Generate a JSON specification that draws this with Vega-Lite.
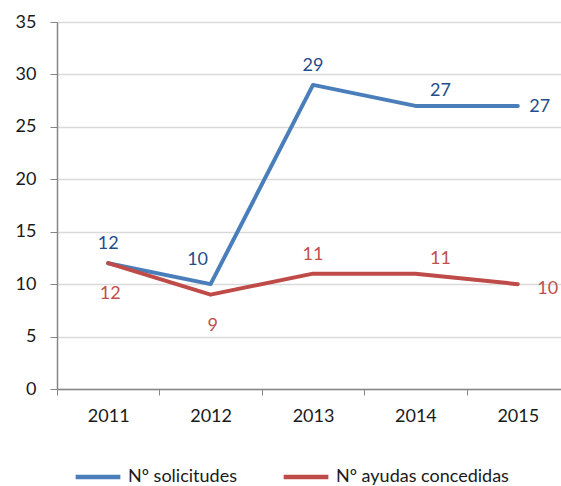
{
  "$schema": "https://vega.github.io/schema/vega-lite/v6.json",
  "width": 512,
  "height": 367,
  "autosize": {"type": "none"},
  "padding": {"left": 57, "top": 22, "right": 0, "bottom": 97},
  "background": "white",
  "config": {
    "font": "Lato",
    "view": {"stroke": null}
  },
  "data": {
    "values": [
      {"year": "2011", "series": "Nº solicitudes", "value": 12},
      {"year": "2012", "series": "Nº solicitudes", "value": 10},
      {"year": "2013", "series": "Nº solicitudes", "value": 29},
      {"year": "2014", "series": "Nº solicitudes", "value": 27},
      {"year": "2015", "series": "Nº solicitudes", "value": 27},
      {"year": "2011", "series": "Nº ayudas concedidas", "value": 12},
      {"year": "2012", "series": "Nº ayudas concedidas", "value": 9},
      {"year": "2013", "series": "Nº ayudas concedidas", "value": 11},
      {"year": "2014", "series": "Nº ayudas concedidas", "value": 11},
      {"year": "2015", "series": "Nº ayudas concedidas", "value": 10}
    ]
  },
  "encoding": {
    "x": {
      "field": "year", "type": "nominal", "title": null,
      "scale": {"type": "band", "paddingInner": 0, "paddingOuter": 0},
      "axis": {
        "labelAngle": 0, "labelFontSize": 18, "labelColor": "#1a1a1a",
        "domainColor": "#868686", "domainWidth": 1.5, "tickColor": "#868686",
        "tickBand": "extent", "tickSize": 6, "labelPadding": 12, "grid": false
      }
    },
    "y": {
      "field": "value", "type": "quantitative", "title": null,
      "scale": {"domain": [0, 35], "nice": false},
      "axis": {
        "values": [0, 5, 10, 15, 20, 25, 30, 35], "labelFontSize": 18, "labelColor": "#1a1a1a",
        "domainColor": "#868686", "domainWidth": 1.5, "tickColor": "#868686", "tickSize": 7,
        "labelPadding": 14, "gridColor": "#D9D9D9", "gridWidth": 1.5
      }
    }
  },
  "layer": [
    {
      "mark": {"type": "line", "strokeWidth": 4, "strokeCap": "round", "strokeJoin": "round"},
      "encoding": {
        "color": {
          "field": "series", "type": "nominal",
          "scale": {"domain": ["Nº solicitudes", "Nº ayudas concedidas"], "range": ["#4A7EBB", "#BE4B48"]},
          "legend": {
            "title": null, "orient": "none", "direction": "horizontal",
            "legendX": 16, "legendY": 430,
            "symbolType": "stroke", "symbolSize": 2000, "symbolStrokeWidth": 4.5,
            "labelFontSize": 18, "labelColor": "#1a1a1a", "labelOffset": 5, "columnPadding": 37,
            "labelLimit": 300
          }
        }
      }
    },
    {
      "transform": [{"filter": "(datum.series == 'Nº solicitudes' && (datum.year == '2011' || datum.year == '2013')) || (datum.series == 'Nº ayudas concedidas' && datum.year == '2013')"}],
      "mark": {"type": "text", "fontSize": 18, "dy": -19},
      "encoding": {"text": {"field": "value"}, "color": {"field": "series", "type": "nominal", "scale": {"domain": ["Nº solicitudes", "Nº ayudas concedidas"], "range": ["#1F4E8C", "#C0504D"]}, "legend": null}}
    },
    {
      "transform": [{"filter": "datum.series == 'Nº solicitudes' && datum.year == '2012'"}],
      "mark": {"type": "text", "fontSize": 18, "dx": -13, "dy": -24, "color": "#1F4E8C"},
      "encoding": {"text": {"field": "value"}, "color": {"value": "#1F4E8C"}}
    },
    {
      "transform": [{"filter": "datum.year == '2014'"}],
      "mark": {"type": "text", "fontSize": 18, "dx": 25, "dy": -15},
      "encoding": {"text": {"field": "value"}, "color": {"field": "series", "type": "nominal", "scale": {"domain": ["Nº solicitudes", "Nº ayudas concedidas"], "range": ["#1F4E8C", "#C0504D"]}, "legend": null}}
    },
    {
      "transform": [{"filter": "datum.year == '2015' && datum.series == 'Nº solicitudes'"}],
      "mark": {"type": "text", "fontSize": 18, "dx": 22, "dy": 1},
      "encoding": {"text": {"field": "value"}, "color": {"value": "#1F4E8C"}}
    },
    {
      "transform": [{"filter": "datum.year == '2015' && datum.series == 'Nº ayudas concedidas'"}],
      "mark": {"type": "text", "fontSize": 18, "dx": 30, "dy": 5},
      "encoding": {"text": {"field": "value"}, "color": {"value": "#C0504D"}}
    },
    {
      "transform": [{"filter": "datum.series == 'Nº ayudas concedidas' && (datum.year == '2011' || datum.year == '2012')"}],
      "mark": {"type": "text", "fontSize": 18, "dx": 2, "dy": 31},
      "encoding": {"text": {"field": "value"}, "color": {"value": "#C0504D"}}
    }
  ],
  "resolve": {"scale": {"color": "independent"}}
}
